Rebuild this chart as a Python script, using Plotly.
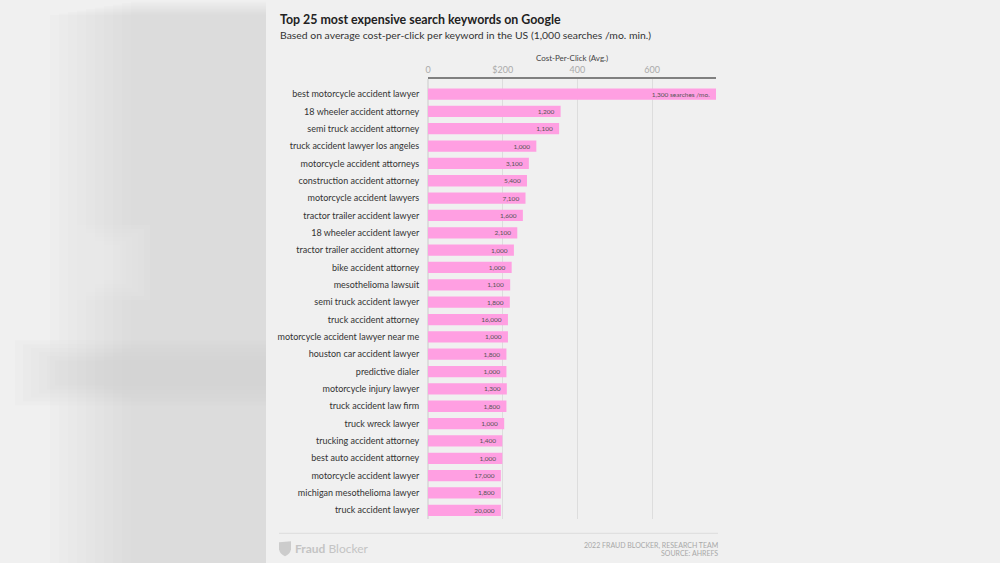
import plotly.graph_objects as go

keywords = [
    "best motorcycle accident lawyer", "18 wheeler accident attorney", "semi truck accident attorney",
    "truck accident lawyer los angeles", "motorcycle accident attorneys", "construction accident attorney",
    "motorcycle accident lawyers", "tractor trailer accident lawyer", "18 wheeler accident lawyer",
    "tractor trailer accident attorney", "bike accident attorney", "mesothelioma lawsuit",
    "semi truck accident lawyer", "truck accident attorney", "motorcycle accident lawyer near me",
    "houston car accident lawyer", "predictive dialer", "motorcycle injury lawyer",
    "truck accident law firm", "truck wreck lawyer", "trucking accident attorney",
    "best auto accident attorney", "motorcycle accident lawyer", "michigan mesothelioma lawyer",
    "truck accident lawyer",
]
cpc = [771, 355, 351, 290, 270, 265, 261, 254, 239, 230, 224, 220, 219, 214, 214,
       210, 210, 211, 210, 204, 199, 199, 195, 195, 195]
searches = ["1,300 searches /mo.", "1,200", "1,100", "1,000", "3,100", "5,400", "7,100", "1,600",
            "2,100", "1,000", "1,000", "1,100", "1,800", "16,000", "1,000", "1,800", "1,000",
            "1,300", "1,800", "1,000", "1,400", "1,000", "17,000", "1,800", "20,000"]
tick_vals = [0, 200, 400, 600]
tick_text = ["0", "$200", "400", "600"]

BG = "#f0f0f0"
FONT = "Lato"

fig = go.Figure()
fig.add_trace(go.Bar(
    x=cpc, y=keywords, orientation="h",
    marker=dict(color="#ff9fe2", line=dict(width=0)),
    text=[s + "\u00a0\u00a0" for s in searches], textposition="inside", insidetextanchor="end",
    textfont=dict(family=FONT, size=6.5, color="#555555"),
    cliponaxis=False, hoverinfo="x+y",
))

W, H = 1000, 563
L, R, T, B = 428, 716, 79, 518.7
fig.update_layout(
    width=W, height=H,
    paper_bgcolor=BG, plot_bgcolor=BG,
    margin=dict(l=L, r=W - R, t=T, b=H - B, pad=0),
    bargap=0.35, showlegend=False,
    uniformtext=dict(minsize=6.5, mode="show"),
    font=dict(family=FONT, color="#333333"),
    xaxis=dict(
        side="top", range=[0, 771], tickvals=tick_vals, ticktext=tick_text,
        tickfont=dict(family=FONT, size=9, color="#aaaaaa"),
        showgrid=True, gridcolor="#dddddd", gridwidth=1,
        showline=True, linecolor="#808080", linewidth=2,
        ticks="", ticklabelstandoff=0, zeroline=True, zerolinecolor="#dddddd",
        title=dict(text="Cost-Per-Click (Avg.)", font=dict(family=FONT, size=8, color="#444444"), standoff=2),
        fixedrange=True,
    ),
    yaxis=dict(
        categoryorder="array", categoryarray=keywords,
        range=[24.5, -0.866],
        tickfont=dict(family=FONT, size=9, color="#333333"),
        ticks="outside", ticklen=6, tickcolor="rgba(0,0,0,0)",
        showgrid=False, showline=False, zeroline=False, fixedrange=True,
    ),
)


def px(x):
    return (x - L) / (R - L)


def py(y):
    return (B - y) / (B - T)


# soft blurred decoration on the left (stepped gradients)
for i in range(10):
    fig.add_shape(type="rect", xref="paper", yref="paper",
                  x0=px(50 + i * 9), x1=px(266), y0=py(563), y1=py(15 - i * 1.5),
                  line=dict(width=0), fillcolor="rgba(205,205,205,0.06)", layer="below")
for i in range(6):
    fig.add_shape(type="rect", xref="paper", yref="paper",
                  x0=px(15 + i * 8), x1=px(266), y0=py(405 - i * 4), y1=py(340 + i * 4),
                  line=dict(width=0), fillcolor="rgba(205,205,205,0.05)", layer="below")
for i in range(6):
    fig.add_shape(type="rect", xref="paper", yref="paper",
                  x0=px(60 + i * 6), x1=px(150 - i * 6), y0=py(300 - i * 4), y1=py(225 + i * 4),
                  line=dict(width=0), fillcolor="rgba(240,240,240,0.12)", layer="below")

# footer separator
fig.add_shape(type="line", xref="paper", yref="paper", x0=px(279), x1=px(718), y0=py(533), y1=py(533),
              line=dict(color="#dcdcdc", width=1))

# shield logo
sx, sy = 279, 541
path = (f"M {px(sx)},{py(sy+1)} L {px(sx+12)},{py(sy)} L {px(sx+12)},{py(sy+8)} "
        f"Q {px(sx+11)},{py(sy+13)} {px(sx+6)},{py(sy+15)} Q {px(sx+1)},{py(sy+13)} {px(sx)},{py(sy+8)} Z")
fig.add_shape(type="path", xref="paper", yref="paper", path=path,
              line=dict(width=0), fillcolor="#cccccc")

annotations = [
    dict(text="<b>Top 25 most expensive search keywords on Google</b>", x=px(278), y=py(19.5),
         font=dict(size=12.4, color="#222222"), xanchor="left", yanchor="middle"),
    dict(text="Based on average cost-per-click per keyword in the US (1,000 searches /mo. min.)",
         x=px(278), y=py(35.5), font=dict(size=10.4, color="#333333"), xanchor="left", yanchor="middle"),
    dict(text="<b>Fraud</b> Blocker", x=px(293), y=py(548),
         font=dict(size=12, color="#c4c4c4"), xanchor="left", yanchor="middle"),
    dict(text="2022 FRAUD BLOCKER, RESEARCH TEAM", x=px(720), y=py(545),
         font=dict(size=7, color="#a8a8a8"), xanchor="right", yanchor="middle"),
    dict(text="SOURCE: AHREFS", x=px(720), y=py(553),
         font=dict(size=7, color="#a8a8a8"), xanchor="right", yanchor="middle"),
]
for a in annotations:
    a.update(xref="paper", yref="paper", showarrow=False)
    a["font"]["family"] = FONT
    fig.add_annotation(**a)

fig.write_html("out.html")
